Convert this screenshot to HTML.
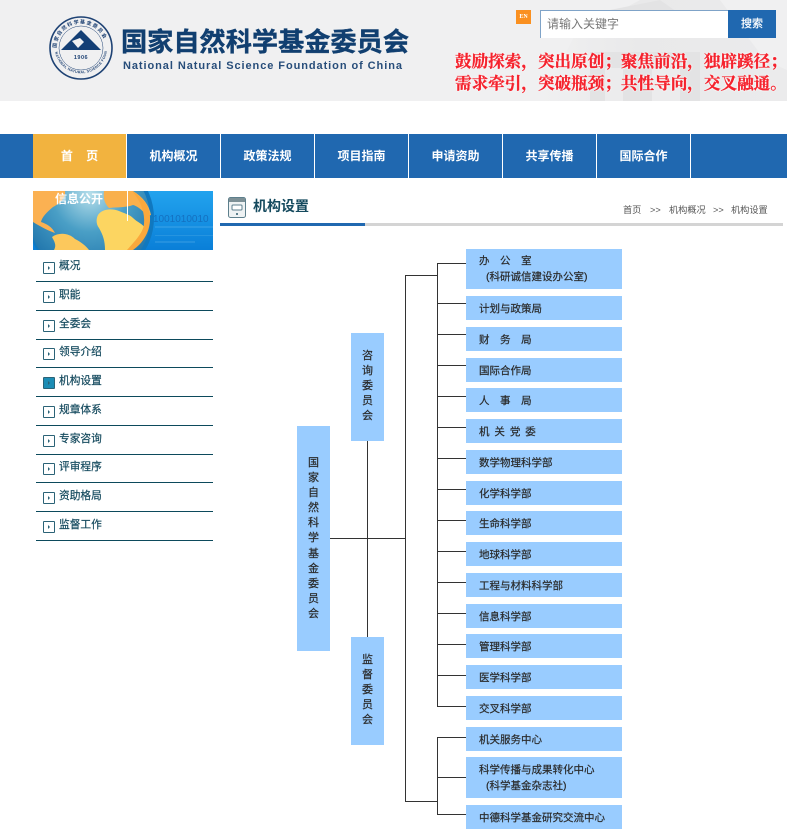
<!DOCTYPE html>
<html lang="zh-CN"><head><meta charset="utf-8"><title>机构设置</title>
<style>
html,body{margin:0;padding:0;background:#fff}
#p{position:relative;width:787px;height:837px;overflow:hidden;background:#fff;font-family:"Liberation Sans","Noto Sans CJK SC",sans-serif;font-size:12px;color:#222}
#p div,#p span.a{position:absolute;white-space:pre}
.n{top:134px;height:44px;line-height:44px;color:#fff;font-weight:bold;text-align:center;font-size:12px}
.l{background:#333}
.b{left:466px;width:156px;background:#99ccff;height:24px;color:#2a2a2a;font-size:10.5px;-webkit-text-stroke:.2px #2a2a2a}
.b span{position:absolute;left:13px;line-height:16px;top:5px;white-space:pre}
.v{background:#99ccff;width:33px;color:#2a2a2a;text-align:center;line-height:15.1px;font-size:11px;-webkit-text-stroke:.2px #2a2a2a;white-space:normal!important}
.si{left:43px;width:10px;height:10px;border:1px solid #2b6377;border-radius:1px;background:#fff}
.si:after{content:"";position:absolute;left:4px;top:3px;border-left:2px solid #2b6377;border-top:2px solid transparent;border-bottom:2px solid transparent}
.st{left:59px;color:#154a5e;line-height:16px;font-size:10.7px;-webkit-text-stroke:.2px #154a5e}
.sl{left:36px;width:177px;height:1px;background:#0c4a5c}
.bc{top:204px;font-size:9.2px;line-height:12px;color:#555}
</style></head><body><div id="p">

<div style="left:0;top:0;width:787px;height:101px;background:#f0f0f1"></div>
<svg style="position:absolute;left:0;top:0" width="787" height="101">
<defs><linearGradient id="fd" x1="0" y1="0" x2="1" y2="0"><stop offset="0" stop-color="#f0f0f1"/><stop offset=".4" stop-color="#e9e9ea"/><stop offset="1" stop-color="#ebebec"/></linearGradient></defs>
<polygon points="540,101 575,35 640,0 720,0 765,60 787,70 787,101" fill="url(#fd)"/>
<g fill="#e3e3e4"><rect x="590" y="52" width="110" height="49"/><polygon points="600,12 660,0 700,28 600,38"/></g>
<g fill="#ececed"><rect x="605" y="68" width="18" height="33"/><rect x="652" y="68" width="28" height="33"/></g>
<g fill="none" stroke="#1e4274">
<circle cx="81" cy="48" r="31" stroke-width="1.6"/><circle cx="81" cy="48" r="22" stroke-width=".5"/></g>
<polygon points="81,30 61,50 101,50" fill="#143f75"/>
<polygon points="72,41 80,38 84,42 78,48" fill="#f0f0f1"/>
<path id="ar" d="M56.5,48 A24.5,24.5 0 0 1 105.5,48" fill="none"/>
<text font-size="5" font-weight="bold" fill="#1e4274" font-family="Noto Sans CJK SC,sans-serif" letter-spacing="1.2"><textPath href="#ar">国家自然科学基金委员会</textPath></text>
<path id="ar2" d="M55,52 A26.5,26.5 0 0 0 107,52" fill="none"/>
<text font-size="3.6" font-weight="bold" fill="#1e4274" font-family="Liberation Sans,sans-serif" letter-spacing=".3"><textPath href="#ar2">NATIONAL NATURAL SCIENCE FOUNDATION</textPath></text>
<text x="81" y="59" font-size="5.5" font-weight="bold" text-anchor="middle" fill="#1e4274" font-family="Liberation Sans,sans-serif" letter-spacing=".5">1906</text>
</svg>
<div style="left:121px;top:23px;font-size:26.2px;line-height:34px;font-weight:bold;color:#113f70;font-family:'Noto Sans CJK SC',sans-serif;-webkit-text-stroke:.4px #113f70">国家自然科学基金委员会</div>
<div style="left:123px;top:59px;font-size:11px;line-height:14px;font-weight:bold;color:#274d7a;letter-spacing:.93px">National Natural Science Foundation of China</div>

<div style="left:516px;top:10px;width:15px;height:14px;background:#fa9020;color:#fff;font:bold 6px/14px 'Liberation Serif',serif;text-align:center">EN</div>
<div style="left:540px;top:10px;width:188px;height:28px;background:#fff;border-top:1px solid #7fa3c8;border-left:1px solid #7fa3c8;box-sizing:border-box"></div>
<div style="left:547px;top:14px;line-height:20px;font-size:12px;color:#777">请输入关键字</div>
<div style="left:728px;top:10px;width:48px;height:28px;background:#2068b0;color:#fff;text-align:center;line-height:28px;font-size:11px;-webkit-text-stroke:.2px #fff">搜索</div>
<div style="left:455px;top:49px;font-size:16.6px;line-height:22px;font-weight:bold;color:#f5222d;font-family:'Noto Serif CJK SC',serif;-webkit-text-stroke:.3px #f5222d;text-shadow:0 0 2px #fff,0 0 2px #fff">鼓励探索，突出原创；聚焦前沿，独辟蹊径；
需求牵引，突破瓶颈；共性导向，交叉融通。</div>

<div style="left:0;top:134px;width:787px;height:44px;background:#2068b0"></div>
<div style="left:33px;top:134px;width:93px;height:44px;background:#f2b33f"></div>
<div class="n" style="left:33px;width:93px">首&nbsp;&nbsp;&nbsp;&nbsp;页</div>
<div class="n" style="left:127px;width:93px">机构概况</div>
<div class="n" style="left:221px;width:93px">政策法规</div>
<div class="n" style="left:315px;width:93px">项目指南</div>
<div class="n" style="left:409px;width:93px">申请资助</div>
<div class="n" style="left:503px;width:93px">共享传播</div>
<div class="n" style="left:597px;width:93px">国际合作</div>
<div style="left:126px;top:134px;width:1px;height:44px;background:#fff"></div>
<div style="left:220px;top:134px;width:1px;height:44px;background:#fff"></div>
<div style="left:314px;top:134px;width:1px;height:44px;background:#fff"></div>
<div style="left:408px;top:134px;width:1px;height:44px;background:#fff"></div>
<div style="left:502px;top:134px;width:1px;height:44px;background:#fff"></div>
<div style="left:596px;top:134px;width:1px;height:44px;background:#fff"></div>
<div style="left:690px;top:134px;width:1px;height:44px;background:#fff"></div>

<svg style="position:absolute;left:33px;top:191px" width="180" height="59" viewBox="0 0 180 59">
<defs>
<linearGradient id="bg" x1="0" y1="0" x2="0" y2="1"><stop offset="0" stop-color="#22a3ee"/><stop offset="1" stop-color="#0a7fd8"/></linearGradient>
<radialGradient id="gl" cx=".5" cy=".3" r=".7"><stop offset="0" stop-color="#b5deea"/><stop offset=".45" stop-color="#4a9fc6"/><stop offset="1" stop-color="#1a6fa8"/></radialGradient>
</defs>
<rect width="180" height="59" fill="url(#bg)"/>
<circle cx="58" cy="27" r="63" fill="#1078bf"/>
<circle cx="57" cy="27" r="60" fill="url(#gl)"/>
<path d="M0,0H32C33,6 28,12 20,16C14,21 9,26 8,31C14,33 19,36 22,42C16,40 8,36 0,31Z" fill="#fbb152"/>
<path d="M19,46C26,41 36,42 42,48C48,51 53,55 56,59H21C24,54 21,50 19,46Z" fill="#fcc85c"/>
<path d="M65,24C69,18 78,17 86,20C93,23 97,24 100,27C104,31 110,33 112,37C108,44 103,50 100,59H72C72,50 70,44 66,37C63,33 63,28 65,24Z" fill="#fcd561"/>
<path d="M71,0H100C110,6 116,14 118,24C113,26 108,16 100,14C92,17 84,16 76,17C72,13 70,8 71,0Z" fill="#f9b04c"/>
<path d="M99,0C112,8 118,18 117,30C116,42 110,52 100,59H94C102,50 110,42 111,33C112,22 108,10 99,0Z" fill="#faa83c"/>
<g fill="#7cc6f2" fill-opacity=".2"><rect x="122" y="35" width="58" height="2"/><rect x="122" y="44" width="58" height="1"/><rect x="122" y="50" width="40" height="2"/></g>
<text x="120" y="31" font-size="10" fill="#1470c0" font-family="Liberation Sans,sans-serif">1001010010</text>
</svg>
<div style="left:55px;top:191px;color:#fff;font-weight:bold;line-height:16px">信息公开</div>
<div style="left:127px;top:191px;width:1px;height:30px;background:#fff"></div>

<div class="si" style="top:262px"></div><div class="st" style="top:258px">概况</div><div class="sl" style="top:281px"></div>
<div class="si" style="top:291px"></div><div class="st" style="top:287px">职能</div><div class="sl" style="top:310px"></div>
<div class="si" style="top:320px"></div><div class="st" style="top:316px">全委会</div><div class="sl" style="top:339px"></div>
<div class="si" style="top:348px"></div><div class="st" style="top:344px">领导介绍</div><div class="sl" style="top:367px"></div>
<div class="si" style="top:377px;background:#1c8db5"></div><div class="st" style="top:373px">机构设置</div><div class="sl" style="top:396px"></div>
<div class="si" style="top:406px"></div><div class="st" style="top:402px">规章体系</div><div class="sl" style="top:425px"></div>
<div class="si" style="top:435px"></div><div class="st" style="top:431px">专家咨询</div><div class="sl" style="top:454px"></div>
<div class="si" style="top:463px"></div><div class="st" style="top:459px">评审程序</div><div class="sl" style="top:482px"></div>
<div class="si" style="top:492px"></div><div class="st" style="top:488px">资助格局</div><div class="sl" style="top:511px"></div>
<div class="si" style="top:521px"></div><div class="st" style="top:517px">监督工作</div><div class="sl" style="top:540px"></div>

<svg style="position:absolute;left:228px;top:197px" width="18" height="21">
<rect x=".5" y=".5" width="17" height="20" rx="2" fill="#eef2f3" stroke="#5d7f8c"/>
<rect x="1" y="1" width="16" height="4" fill="#7d9096"/>
<rect x="4" y="8" width="10" height="5" rx="1" fill="#fff" stroke="#5d7f8c"/>
<rect x="8" y="16" width="2" height="2" fill="#5d7f8c"/>
</svg>
<div style="left:253px;top:197px;font-size:14px;line-height:18px;font-weight:bold;color:#154a5e">机构设置</div>
<div class="bc" style="left:623px">首页</div>
<div class="bc" style="left:650px">&gt;&gt;</div>
<div class="bc" style="left:669px">机构概况</div>
<div class="bc" style="left:713px">&gt;&gt;</div>
<div class="bc" style="left:731px">机构设置</div>
<div style="left:220px;top:223px;width:145px;height:3px;background:#2068b0"></div>
<div style="left:365px;top:223px;width:418px;height:3px;background:#d4d4d4"></div>

<div class="l" style="left:405px;top:275px;width:1px;height:527px"></div>
<div class="l" style="left:405px;top:275px;width:32px;height:1px"></div>
<div class="l" style="left:405px;top:801px;width:32px;height:1px"></div>
<div class="l" style="left:330px;top:538px;width:75px;height:1px"></div>
<div class="l" style="left:367px;top:441px;width:1px;height:196px"></div>
<div class="l" style="left:437px;top:263px;width:1px;height:444px"></div>
<div class="l" style="left:437px;top:737px;width:1px;height:78px"></div>
<div class="l" style="left:437px;top:263px;width:29px;height:1px"></div>
<div class="l" style="left:437px;top:303px;width:29px;height:1px"></div>
<div class="l" style="left:437px;top:334px;width:29px;height:1px"></div>
<div class="l" style="left:437px;top:365px;width:29px;height:1px"></div>
<div class="l" style="left:437px;top:396px;width:29px;height:1px"></div>
<div class="l" style="left:437px;top:427px;width:29px;height:1px"></div>
<div class="l" style="left:437px;top:458px;width:29px;height:1px"></div>
<div class="l" style="left:437px;top:489px;width:29px;height:1px"></div>
<div class="l" style="left:437px;top:520px;width:29px;height:1px"></div>
<div class="l" style="left:437px;top:551px;width:29px;height:1px"></div>
<div class="l" style="left:437px;top:582px;width:29px;height:1px"></div>
<div class="l" style="left:437px;top:613px;width:29px;height:1px"></div>
<div class="l" style="left:437px;top:644px;width:29px;height:1px"></div>
<div class="l" style="left:437px;top:675px;width:29px;height:1px"></div>
<div class="l" style="left:437px;top:706px;width:29px;height:1px"></div>
<div class="l" style="left:437px;top:737px;width:29px;height:1px"></div>
<div class="l" style="left:437px;top:777px;width:29px;height:1px"></div>
<div class="l" style="left:437px;top:814px;width:29px;height:1px"></div>

<div class="v" style="left:297px;top:426px;height:225px"><span class="a" style="left:0;width:33px;top:30px;white-space:normal">国<br>家<br>自<br>然<br>科<br>学<br>基<br>金<br>委<br>员<br>会</span></div>
<div class="v" style="left:351px;top:333px;height:108px"><span class="a" style="left:0;width:33px;top:16px;white-space:normal">咨<br>询<br>委<br>员<br>会</span></div>
<div class="v" style="left:351px;top:637px;height:108px"><span class="a" style="left:0;width:33px;top:16px;white-space:normal">监<br>督<br>委<br>员<br>会</span></div>

<div class="b" style="top:249px;height:40px"><span style="top:4px;letter-spacing:.45px">办&nbsp;&nbsp;&nbsp;公&nbsp;&nbsp;&nbsp;室</span><span style="top:20px;left:20px">(科研诚信建设办公室)</span></div>
<div class="b" style="top:296px"><span>计划与政策局</span></div>
<div class="b" style="top:327px"><span style="letter-spacing:.45px">财&nbsp;&nbsp;&nbsp;务&nbsp;&nbsp;&nbsp;局</span></div>
<div class="b" style="top:358px"><span>国际合作局</span></div>
<div class="b" style="top:388px"><span style="letter-spacing:.45px">人&nbsp;&nbsp;&nbsp;事&nbsp;&nbsp;&nbsp;局</span></div>
<div class="b" style="top:419px"><span style="letter-spacing:1px">机 关 党 委</span></div>
<div class="b" style="top:450px"><span>数学物理科学部</span></div>
<div class="b" style="top:481px"><span>化学科学部</span></div>
<div class="b" style="top:511px"><span>生命科学部</span></div>
<div class="b" style="top:542px"><span>地球科学部</span></div>
<div class="b" style="top:573px"><span>工程与材料科学部</span></div>
<div class="b" style="top:604px"><span>信息科学部</span></div>
<div class="b" style="top:634px"><span>管理科学部</span></div>
<div class="b" style="top:665px"><span>医学科学部</span></div>
<div class="b" style="top:696px"><span>交叉科学部</span></div>
<div class="b" style="top:727px"><span>机关服务中心</span></div>
<div class="b" style="top:757px;height:41px"><span style="top:5px">科学传播与成果转化中心</span><span style="top:21px;left:20px">(科学基金杂志社)</span></div>
<div class="b" style="top:805px"><span>中德科学基金研究交流中心</span></div>
</div></body></html>
